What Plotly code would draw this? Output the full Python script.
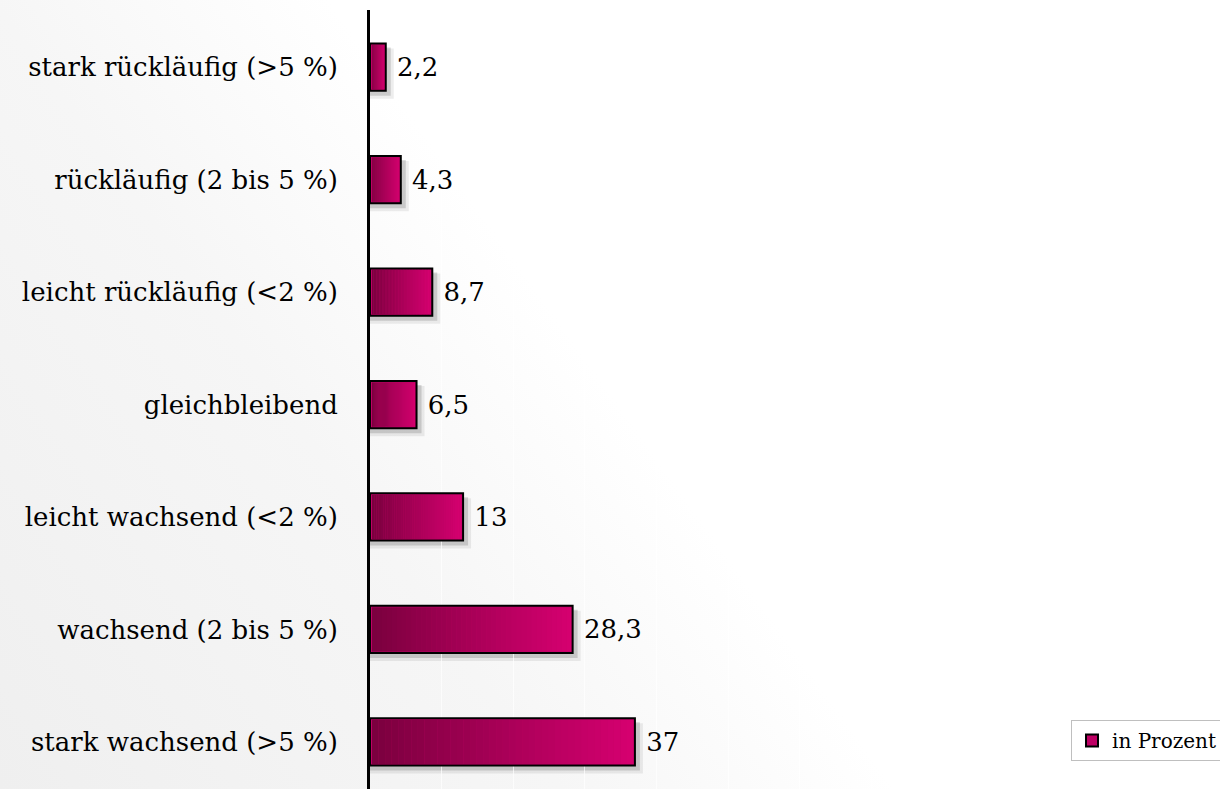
import base64
import plotly.graph_objects as go

# ---- data ----
categories = [
    "stark rückläufig (>5 %)",
    "rückläufig (2 bis 5 %)",
    "leicht rückläufig (<2 %)",
    "gleichbleibend",
    "leicht wachsend (<2 %)",
    "wachsend (2 bis 5 %)",
    "stark wachsend (>5 %)",
]
values = [2.2, 4.3, 8.7, 6.5, 13, 28.3, 37]
series_name = "in Prozent"

# ---- styling ----
FONT = "DejaVu Serif"
W, H = 1220, 789
ML, MR, MT, MB = 370, 0, 10, 0
PX_PER_UNIT = 7.16
plot_w = W - ML - MR
plot_h = H - MT - MB
XR = [0, plot_w / PX_PER_UNIT]
YR = [-0.418, 6.507]
BAR_W = 0.42
DARK = (122, 0, 62)
BRIGHT = (214, 0, 112)

px_x = (XR[1] - XR[0]) / plot_w          # data units per pixel (x)
px_y = (YR[1] - YR[0]) / plot_h          # data units per pixel (y)

ypos = [len(categories) - 1 - i for i in range(len(categories))]
labels = [str(v).replace(".", ",") for v in values]

fig = go.Figure()
fig.add_trace(go.Bar(
    x=values, y=ypos, orientation="h", name=series_name,
    width=BAR_W,
    marker=dict(color="rgb(190,0,100)", line=dict(color="black", width=2)),
    text=labels, texttemplate="\u00a0%{text}", textposition="outside",
    textfont=dict(family=FONT, size=26, color="black"),
    cliponaxis=False, showlegend=True, hoverinfo="skip",
))

shapes = []
# shadows (below)
for v, y in zip(values, ypos):
    for off, alpha, grow in [(5, 0.07, 3), (4, 0.14, 1)]:
        shapes.append(dict(
            type="rect", xref="x", yref="y", layer="below",
            x0=0, x1=v + (off + grow) * px_x,
            y0=y - BAR_W / 2 - (off + grow) * px_y, y1=y + BAR_W / 2 - off * px_y,
            fillcolor=f"rgba(0,0,0,{alpha})", line=dict(width=0),
        ))
# gradient fill of each bar (inside the outline)
N = 40
for v, y in zip(values, ypos):
    x_start = 2 * px_x
    x_end = v - 1.5 * px_x
    y0 = y - BAR_W / 2 + 1.5 * px_y
    y1 = y + BAR_W / 2 - 1.5 * px_y
    step = (x_end - x_start) / N
    for j in range(N):
        t = (j + 0.5) / N
        c = tuple(int(round(DARK[k] + (BRIGHT[k] - DARK[k]) * t)) for k in range(3))
        shapes.append(dict(
            type="rect", xref="x", yref="y", layer="above",
            x0=x_start + j * step, x1=min(x_start + (j + 1.02) * step, x_end),
            y0=y0, y1=y1,
            fillcolor=f"rgb{c}", line=dict(width=0),
        ))

# background gradient as inline svg image
svg = f'''<svg xmlns="http://www.w3.org/2000/svg" width="{W}" height="{H}" viewBox="0 0 {W} {H}" preserveAspectRatio="none">
<defs><linearGradient id="g" gradientUnits="userSpaceOnUse" x1="0" y1="{H}" x2="820" y2="200">
<stop offset="0" stop-color="#efefef"/><stop offset="0.45" stop-color="#f6f6f6"/>
<stop offset="0.72" stop-color="#ffffff"/><stop offset="1" stop-color="#ffffff"/>
</linearGradient></defs>
<rect width="{W}" height="{H}" fill="url(#g)"/></svg>'''
src = "data:image/svg+xml;base64," + base64.b64encode(svg.encode()).decode()

fig.update_layout(
    width=W, height=H,
    margin=dict(l=ML, r=MR, t=MT, b=MB, autoexpand=False),
    paper_bgcolor="white", plot_bgcolor="rgba(0,0,0,0)",
    separators=",.",
    font=dict(family=FONT, size=26, color="black"),
    shapes=shapes,
    images=[dict(source=src, xref="paper", yref="paper",
                 x=-ML / plot_w, y=1 + MT / plot_h,
                 sizex=W / plot_w, sizey=H / plot_h,
                 xanchor="left", yanchor="top", sizing="stretch", layer="below")],
    xaxis=dict(range=XR, showgrid=True, gridcolor="rgba(255,255,255,0.7)", gridwidth=1,
               dtick=10, zeroline=False, showticklabels=False, showline=False, fixedrange=True),
    yaxis=dict(range=YR, tickmode="array", tickvals=ypos, ticktext=categories,
               showline=True, linecolor="black", linewidth=3, showgrid=False, zeroline=False,
               ticks="", ticklabelstandoff=24,
               tickfont=dict(family=FONT, size=26, color="black"), fixedrange=True),
    showlegend=True,
    legend=dict(x=(1071 - ML) / plot_w, y=(H - 720) / plot_h, xanchor="left", yanchor="top",
                bgcolor="white", bordercolor="#bfbfbf", borderwidth=1,
                font=dict(family=FONT, size=20, color="black"),
                itemwidth=30, tracegroupgap=0),
)

fig.write_html("out.html", config={"displayModeBar": False},
               post_script="document.body.style.margin='0px';")
